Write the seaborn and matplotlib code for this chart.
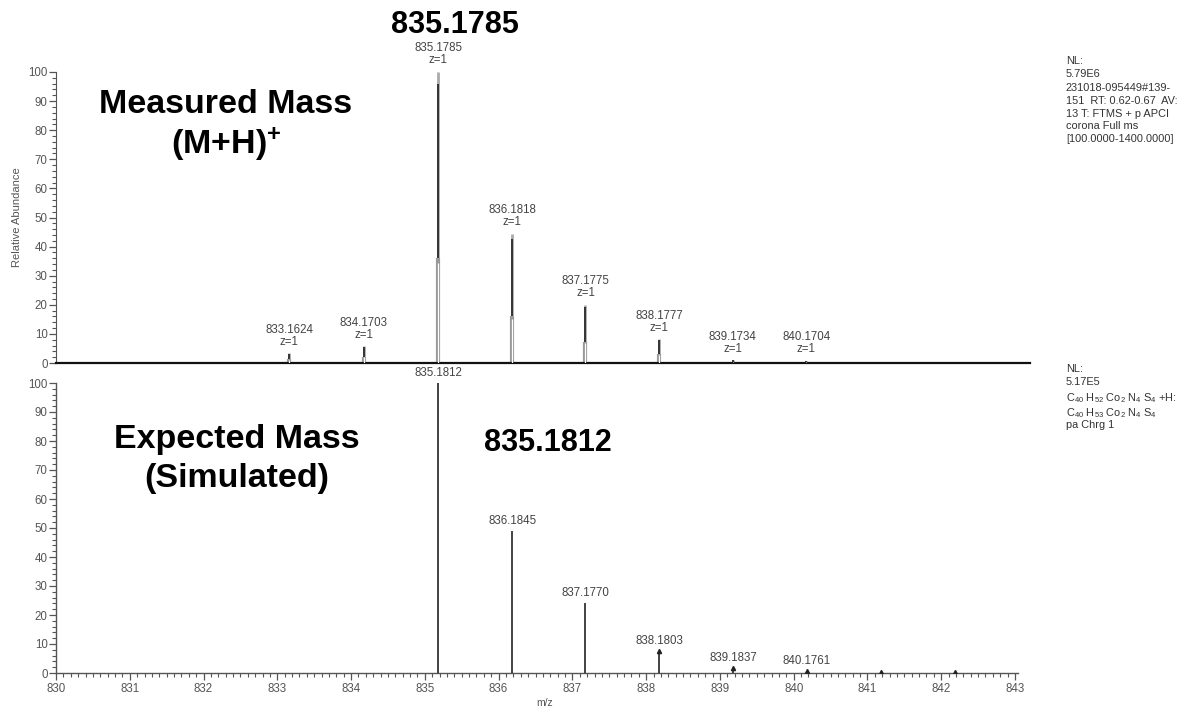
import numpy as np
import matplotlib
matplotlib.use("Agg")
import matplotlib.pyplot as plt
from matplotlib.ticker import MultipleLocator
import seaborn as sns

# Measured spectrum, (M+H)+ isotope cluster
meas_mz = [833.1624, 834.1703, 835.1785, 836.1818, 837.1775, 838.1777, 839.1734, 840.1704]
meas_int = [3.4, 5.8, 100.0, 44.5, 20.0, 8.2, 1.0, 0.8]

# Simulated isotope pattern
sim_mz = [835.1812, 836.1845, 837.1770, 838.1803, 839.1837, 840.1761, 841.18, 842.18]
sim_int = [100.0, 49.0, 24.0, 7.6, 1.7, 0.7, 0.3, 0.2]
sim_labeled = 6  # first six sticks carry a label

sns.set_style("ticks")
plt.rcParams["font.family"] = ["Liberation Sans", "DejaVu Sans"]
plt.rcParams["mathtext.fontset"] = "custom"
plt.rcParams["mathtext.rm"] = "Liberation Sans"
plt.rcParams["mathtext.bf"] = "Liberation Sans:bold"

GRAY = "#555555"
LBL = "#444444"

fig = plt.figure(figsize=(11.9, 7.06), dpi=100)
W, H = 1190, 706
ax1 = fig.add_axes([56 / W, 1 - 363 / H, (1030 - 56) / W, (363 - 72) / H])
ax2 = fig.add_axes([56 / W, 1 - 673 / H, (1018 - 56) / W, (673 - 383) / H])

px_per_unit = (1015 - 56) / 13.0
ax1.set_xlim(830, 830 + (1030 - 56) / px_per_unit)
ax2.set_xlim(830, 830 + (1018 - 56) / px_per_unit)
for ax in (ax1, ax2):
    ax.set_ylim(0, 100)
    ax.yaxis.set_major_locator(MultipleLocator(10))
    ax.yaxis.set_minor_locator(MultipleLocator(2))
    ax.tick_params(axis="y", which="major", length=5, width=0.9, color=GRAY,
                   labelsize=8.3, labelcolor=GRAY, pad=1)
    ax.tick_params(axis="y", which="minor", length=3, width=0.8, color=GRAY)
    ax.set_facecolor("white")
sns.despine(ax=ax1)
sns.despine(ax=ax2)

# --- top panel: profile-style peaks ---
ax1.spines["left"].set_color(GRAY)
ax1.spines["bottom"].set_color("#111111")
ax1.spines["bottom"].set_linewidth(1.6)
ax1.tick_params(axis="x", which="both", bottom=False, labelbottom=False)
mz = np.array(meas_mz)
hi = np.array(meas_int)
base = 0.36
ax1.vlines(mz, 0, hi * base, color="#999999", lw=3.0, zorder=2)
ax1.vlines(mz, 0, hi * base * 0.95, color="white", lw=0.9, zorder=3)
ax1.vlines(mz, hi * base, hi, color="#aaaaaa", lw=2.0, zorder=2)
ax1.vlines(mz, hi * base, hi * 0.96, color="#2a2a2a", lw=1.3, zorder=4)
for m, h in zip(meas_mz, meas_int):
    ax1.annotate(f"{m:.4f}\nz=1", xy=(m, h), xytext=(0, 4), textcoords="offset points",
                 ha="center", va="bottom", fontsize=8.3, color=LBL, linespacing=1.0,
                 annotation_clip=False)
ax1.set_ylabel("Relative Abundance", fontsize=8, color=GRAY)
ax1.yaxis.set_label_coords(-0.035, 0.5)

# --- bottom panel: centroid sticks ---
for sp in ("left", "bottom"):
    ax2.spines[sp].set_color(GRAY)
    ax2.spines[sp].set_linewidth(1.0)
ax2.xaxis.set_major_locator(MultipleLocator(1))
ax2.xaxis.set_minor_locator(MultipleLocator(0.1))
ax2.tick_params(axis="x", which="major", length=5, width=0.9, color=GRAY,
                labelsize=8.3, labelcolor=GRAY, pad=2)
ax2.tick_params(axis="x", which="minor", length=3, width=0.8, color=GRAY)
ax2.vlines(sim_mz, 0, sim_int, color="#222222", lw=1.2, zorder=3)
ax2.plot(sim_mz[3:], sim_int[3:], ls="none", marker="^", ms=3, color="#222222", zorder=4)
for m, h in zip(sim_mz[:sim_labeled], sim_int[:sim_labeled]):
    ax2.annotate(f"{m:.4f}", xy=(m, h), xytext=(0, 3), textcoords="offset points",
                 ha="center", va="bottom", fontsize=8.3, color=LBL, annotation_clip=False)
ax2.set_xlabel("m/z", fontsize=7.5, color=GRAY)
ax2.xaxis.set_label_coords(0.508, -0.085)

# --- headline annotations ---
fig.text(455 / W, 1 - 25 / H, "835.1785", fontsize=22, fontweight="bold",
         ha="center", va="center", color="black")
fig.text(226 / W, 1 - 126 / H, "Measured Mass\n(M+H)$\\mathbf{^{+}}$", fontsize=24.5,
         fontweight="bold", ha="center", va="center", linespacing=1.2, color="black")
fig.text(237 / W, 1 - 459 / H, "Expected Mass\n(Simulated)", fontsize=24.5,
         fontweight="bold", ha="center", va="center", linespacing=1.3, color="black")
fig.text(548 / W, 1 - 443 / H, "835.1812", fontsize=22, fontweight="bold",
         ha="center", va="center", color="black")

# --- instrument / scan info ---
info_kw = dict(fontsize=7.9, color="#333333", ha="left", va="top", linespacing=1.35)
fig.text(1066 / W, 1 - 56 / H, "NL:\n5.79E6", **info_kw)
fig.text(1066 / W, 1 - 83 / H,
         "231018-095449#139-\n151  RT: 0.62-0.67  AV:\n13 T: FTMS + p APCI\n"
         "corona Full ms\n[100.0000-1400.0000]", **info_kw)
fig.text(1066 / W, 1 - 364 / H, "NL:\n5.17E5", **info_kw)
fig.text(1066 / W, 1 - 391 / H,
         "C$_{40}$ H$_{52}$ Co$_{2}$ N$_{4}$ S$_{4}$ +H:\n"
         "C$_{40}$ H$_{53}$ Co$_{2}$ N$_{4}$ S$_{4}$\npa Chrg 1",
         fontsize=7.9, color="#333333", ha="left", va="top", linespacing=1.1)

fig.savefig("out.png", dpi=100, facecolor="white")
